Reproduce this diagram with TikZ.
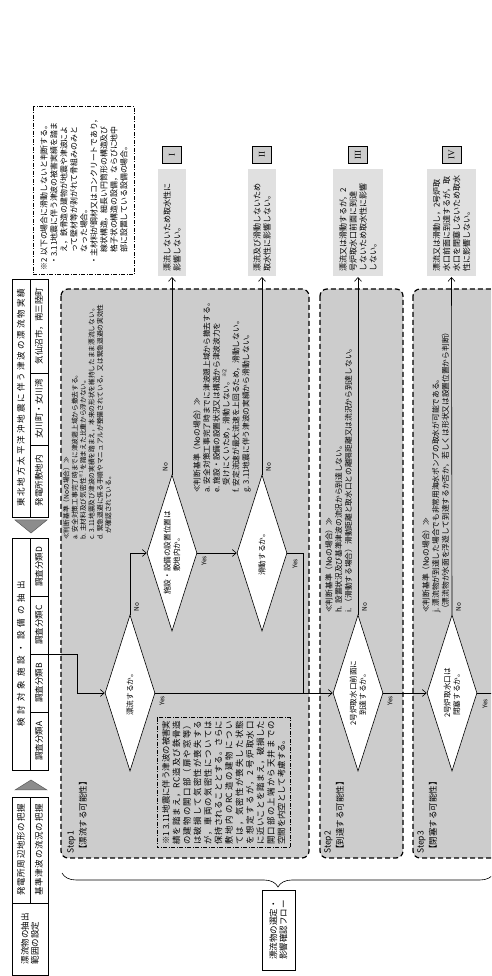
\documentclass[tikz,border=0pt]{standalone}
\usepackage{fontspec}
\setmainfont{Noto Sans CJK JP}
\newfontfamily\romfont{Liberation Serif}
\usetikzlibrary{arrows.meta, positioning, shapes.geometric, decorations.pathreplacing, calc}
\ExplSyntaxOn
\NewDocumentCommand{\spr}{m m}{\hbox to #1{\tl_map_inline:nn {#2} {##1\hfil}\unskip}}
\ExplSyntaxOff

\begin{document}
\begin{tikzpicture}[x=1pt, y=1pt, rotate=90, transform shape,
  hdr/.style={draw, line width=0.8pt, fill=white, inner sep=0pt, outer sep=0pt, font=\fontsize{8.5}{10}\selectfont},
  band/.style={draw, line width=1.2pt, dash pattern=on 5pt off 3pt, rounded corners=7pt, fill=black!20},
  dia/.style={diamond, draw, line width=0.6pt, fill=white, inner sep=0pt, shape aspect=3.1, minimum width=156pt, minimum height=50pt, align=center, font=\fontsize{7.6}{9.5}\selectfont},
  res/.style={draw, double, double distance=1.2pt, line width=0.5pt, fill=black!12, outer sep=0pt, inner xsep=5pt, inner ysep=2pt, text width=99pt, minimum height=30pt, align=left, font=\fontsize{8}{10}\selectfont},
  numbox/.style={draw, line width=0.6pt, fill=black!20, minimum width=16.6pt, minimum height=18.6pt, inner sep=0pt, font=\romfont\fontsize{9}{10}\selectfont},
  crit/.style={anchor=north west, inner sep=0pt, align=left, font=\fontsize{7.7}{9.8}\selectfont},
  note/.style={draw, line width=0.6pt, dash pattern=on 4pt off 1.5pt on 1pt off 1.5pt},
  steplbl/.style={anchor=north west, inner sep=0pt, align=left, font=\fontsize{8.5}{12.5}\selectfont},
  yn/.style={inner sep=0pt, font=\fontsize{6.5}{7}\selectfont},
  conn/.style={line width=0.6pt},
  arr/.style={conn, -{Straight Barb[length=4pt, width=7pt]}}
]
\useasboundingbox (0,0) rectangle (976,-491);
\clip (0,0) rectangle (976,-491);

\node[band, minimum width=569pt, minimum height=248pt] (s1) at (402.5,-185) {};
\node[band, minimum width=569pt, minimum height=83pt] (s2) at (402.5,-361.5) {};
\node[band, minimum width=569pt, minimum height=110pt] (s3) at (402.5,-468) {};

\node[steplbl] (l1) at (122,-67) {Step1\\【漂流する可能性】};
\node[steplbl] (l2) at (122,-324) {Step2\\【到達する可能性】};
\node[steplbl] (l3) at (122,-417) {Step3\\【閉塞する可能性】};

\node[hdr, minimum width=72pt, minimum height=36pt, align=left] (h1) at (37,-30) {漂流物の抽出\\範囲の設定};
\node[hdr, minimum width=106pt, minimum height=18pt] (h2a) at (126,-21) {\spr{92pt}{発電所周辺地形の把握}};
\node[hdr, minimum width=106pt, minimum height=18pt] (h2b) at (126,-39) {\spr{92pt}{基準津波の流況の把握}};
\filldraw[fill=black!45, draw=black!65, line width=0.5pt] (186,-15) -- (196,-31) -- (186,-47) -- cycle;

\node[hdr, minimum width=232pt, minimum height=18pt] (h3) at (322,-21) {\spr{146pt}{検討対象施設・設備の抽出}};
\node[hdr, minimum width=58pt, minimum height=18pt] (cA) at (235,-39) {調査分類A};
\node[hdr, minimum width=58pt, minimum height=18pt] (cB) at (293,-39) {調査分類B};
\node[hdr, minimum width=58pt, minimum height=18pt] (cC) at (351,-39) {調査分類C};
\node[hdr, minimum width=58pt, minimum height=18pt] (cD) at (409,-39) {調査分類D};
\filldraw[fill=black!45, draw=black!65, line width=0.5pt] (456,-15) -- (443,-31) -- (456,-47) -- cycle;

\node[hdr, minimum width=238pt, minimum height=18pt] (h4) at (578,-21) {\spr{218pt}{東北地方太平洋沖地震に伴う津波の漂流物実績}};
\node[hdr, minimum width=72pt, minimum height=18pt] (k1) at (495,-39) {発電所敷地内};
\node[hdr, minimum width=72pt, minimum height=18pt] (k2) at (567,-39) {女川町・女川湾};
\node[hdr, minimum width=94pt, minimum height=18pt] (k3) at (650,-39) {気仙沼市，南三陸町};

\node[note, fill=white, anchor=north west, inner sep=4pt, text width=160pt, minimum height=101pt, align=left, font=\fontsize{7.9}{10}\selectfont] (nt2) at (701,-33) {※2 以下の場合に滑動しないと判断する。\\
\hspace*{6pt}・3.11地震に伴う津波の被害実績を踏ま\\
\hspace*{18pt}え，鉄骨造の建物が地震や津波によ\\
\hspace*{18pt}って壁材等が剥がれて骨組みのみと\\
\hspace*{18pt}なった場合。\\
\hspace*{6pt}・主材料が鋼材又はコンクリートであり，\\
\hspace*{18pt}線状構造，細長い円筒形の構造及び\\
\hspace*{18pt}格子状の構造の設備，ならびに地中\\
\hspace*{18pt}部に設置している設備の場合。};

\node[dia] (d1) at (283,-130) {漂流するか。};
\node[dia] (d2) at (423,-172) {施設・設備の設置位置は\\敷地内か。};
\node[dia] (d3) at (423,-262) {滑動するか。};
\node[dia] (d4) at (283,-358) {2号炉取水口前面に\\到達するか。};
\node[dia] (d5) at (283,-452) {2号炉取水口は\\閉塞するか。};

\node[res] (r1) at (753.5,-172) {漂流しないため取水性に\\影響しない。};
\node[res] (r2) at (753.5,-262) {漂流及び滑動しないため\\取水性に影響しない。};
\node[res, minimum height=52pt] (r3) at (753.5,-358) {漂流又は滑動するが，2\\号炉取水口前面に到達\\しないため取水性に影響\\しない。};
\node[res, minimum height=51pt] (r4) at (753.5,-451.5) {漂流又は滑動し，2号炉取\\水口前面に到達するが，取\\水口を閉塞しないため取水\\性に影響しない。};
\node[numbox, right=4.7pt of r1] (m1) {I};
\node[numbox, right=4.7pt of r2] (m2) {II};
\node[numbox, right=4.7pt of r3] (m3) {III};
\node[numbox, right=4.7pt of r4] (m4) {IV};

\node[crit, font=\fontsize{6.7}{8.4}\selectfont] (ca) at (436,-63) {≪判断基準（Noの場合）≫\\
a. 安全対策工事完了時までに津波遡上域から撤去する。\\
b. 主材料及び気密性\textsuperscript{※1}を踏まえた比重から浮かない。\\
c. 3.11地震及び津波の実績を踏まえ，本来の形状を維持したまま漂流しない。\\
d. 緊急退避に係る手順やマニュアルが整備されている，又は緊急退避の実効性\\
\hspace*{1em}が確認されている。};
\node[crit] (cb) at (483,-193) {≪判断基準（Noの場合）≫\\
a. 安全対策工事完了時までに津波遡上域から撤去する。\\
e. 施設・設備の設置状況又は構造から津波波力を\\
\hspace*{1em}受けにくいため，滑動しない。\textsuperscript{※2}\\
f. 安定流速が最大流速を上回るため，滑動しない。\\
g. 3.11地震に伴う津波の実績から滑動しない。};
\node[crit] (cc) at (363,-325) {≪判断基準（Noの場合）≫\\
h. 設置状況及び基準津波の流況から到達しない。\\
i. （滑動する場合）滑動距離と取水口との離隔距離又は流況から到達しない。};
\node[crit] (cd) at (363,-422) {≪判断基準（Noの場合）≫\\
j. 漂流物が到達した場合でも非常用海水ポンプの取水が可能である。\\
（漂流物が水面を浮遊して到達するか否か，若しくは形状又は設置位置から判断）};

\node[note, anchor=north west, inner sep=3pt, minimum width=130pt, minimum height=133pt, align=left, font=\fontsize{8.4}{10.5}\selectfont] (nt1) at (128,-157) {\spr{124pt}{{※1\ 3.11}地震に伴う津波の被害実}\\
\spr{124pt}{績を踏まえ，{RC}造及び鉄骨造}\\
\spr{124pt}{の建物の開口部（扉や窓等）}\\
\spr{124pt}{は破損して気密性が喪失する}\\
\spr{124pt}{が，車両の気密性については}\\
\spr{124pt}{保持されることとする。さらに}\\
\spr{124pt}{敷地内の{RC}造の建物につい}\\
\spr{124pt}{ては，気密性が喪失した状態}\\
\spr{124pt}{を想定するが，2号炉取水口}\\
\spr{124pt}{に近いことを踏まえ，破損した}\\
\spr{124pt}{開口部の上端から天井までの}\\
空間を内空として考慮する。};

\draw[arr] (cB.south east) -- ++(0,-29) -| (d1.north);
\draw[arr] (d1.east) -| (d2.north);
\draw[arr] (d2.east) -- (r1.west);
\draw[arr] (d2.south) -- (d3.north);
\draw[arr] (d3.east) -- (r2.west);
\coordinate (j1) at (283,-303);
\draw[conn] (d3.south) |- (j1);
\draw[arr] (d1.south) -- (d4.north);
\draw[arr] (d4.east) -- (r3.west);
\draw[arr] (d4.south) -- (d5.north);
\draw[arr] (d5.east) -- (r4.west);
\coordinate (out5) at (283,-520);
\draw[conn] (d5.south) -- (out5);

\node[yn, anchor=north east] (y1) at ($(d1.south)+(-3,-4)$) {Yes};
\node[yn, anchor=north west] (n1) at ($(d1.east)+(3,-4)$) {No};
\node[yn, anchor=south west] (n2) at ($(d2.east)+(3,4)$) {No};
\node[yn, anchor=north east] (y2) at ($(d2.south)+(-3,-4)$) {Yes};
\node[yn, anchor=north west] (n3) at ($(d3.east)+(3,-4)$) {No};
\node[yn, anchor=north east] (y3) at ($(d3.south)+(-6,-5)$) {Yes};
\node[yn, anchor=north east] (y4) at ($(d4.south)+(-3,-4)$) {Yes};
\node[yn, anchor=north west] (n4) at ($(d4.east)+(3,-4)$) {No};
\node[yn, anchor=north east] (y5) at ($(d5.south)+(-6,-5)$) {Yes};
\node[yn, anchor=north west] (n5) at ($(d5.east)+(3,-4)$) {No};

\draw[decorate, decoration={brace, amplitude=14pt}, line width=0.6pt] (103,-494) -- (103,-62);
\node[hdr, line width=0.6pt, minimum width=80pt, minimum height=33pt, align=left] (flow) at (46,-278.5) {漂流物の選定・\\影響確認フロー};
\end{tikzpicture}
\end{document}
